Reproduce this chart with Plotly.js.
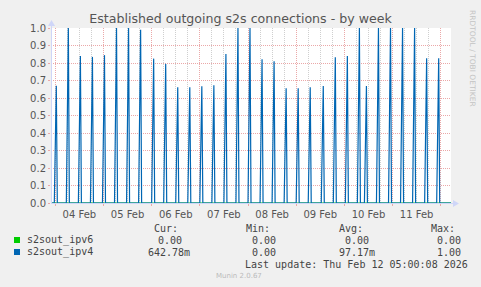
<!DOCTYPE html>
<html>
<head>
<meta charset="utf-8">
<script src="https://cdn.plot.ly/plotly-3.0.1.min.js"></script>
<style>
  html, body { margin: 0; padding: 0; background: #F0F0F0; }
  #chart { width: 481px; height: 287px; }
</style>
</head>
<body>
<div id="chart"></div>
<script>
// ---- data ----
const chartTitle = 'Established outgoing s2s connections - by week';
const seriesNames = ['s2sout_ipv6', 's2sout_ipv4'];
const seriesColors = ['#00CC00', '#0066B3'];

// times of the 6-hourly spikes of s2sout_ipv4
const spikeTimes = [
  '2026-02-04 00:30', '2026-02-04 06:30', '2026-02-04 12:30', '2026-02-04 18:30',
  '2026-02-05 00:30', '2026-02-05 06:30', '2026-02-05 12:30', '2026-02-05 18:30',
  '2026-02-06 01:00', '2026-02-06 07:00', '2026-02-06 13:00', '2026-02-06 19:00',
  '2026-02-07 01:00', '2026-02-07 07:00', '2026-02-07 13:00', '2026-02-07 19:00',
  '2026-02-08 01:00', '2026-02-08 07:00', '2026-02-08 13:00', '2026-02-08 19:00',
  '2026-02-09 01:00', '2026-02-09 07:00', '2026-02-09 13:30', '2026-02-09 19:30',
  '2026-02-10 01:30', '2026-02-10 07:30', '2026-02-10 11:00', '2026-02-10 17:00',
  '2026-02-10 23:00', '2026-02-11 05:00', '2026-02-11 11:00', '2026-02-11 17:00',
  '2026-02-11 23:00'
];
// peak value of s2sout_ipv4 at each spike
const ipv4Peaks = [
  0.67, 1.00, 0.84, 0.835,
  0.845, 1.00, 1.00, 0.99,
  0.825, 0.795, 0.662, 0.662,
  0.667, 0.673, 0.852, 1.00,
  1.00, 0.822, 0.81, 0.656,
  0.656, 0.662, 0.669, 0.833,
  0.84, 1.00, 0.669, 1.00,
  1.00, 1.00, 1.00, 0.827,
  0.827
];
// s2sout_ipv6 stays at zero the whole week
const ipv6Value = 0;

const xRange = ['2026-02-03 21:51:30', '2026-02-12 05:08'];
const yTicks = [0, 0.1, 0.2, 0.3, 0.4, 0.5, 0.6, 0.7, 0.8, 0.9, 1.0];

const legendHeaders = ['Cur:', 'Min:', 'Avg:', 'Max:'];
const legendRows = [
  ['0.00', '0.00', '0.00', '0.00'],
  ['642.78m', '0.00', '97.17m', '1.00']
];
const lastUpdate = 'Last update: Thu Feb 12 05:00:08 2026';
const footer = 'Munin 2.0.67';
const sideText = 'RRDTOOL / TOBI OETIKER';

// ---- build series (samples are 30 min apart) ----
const HALF = 30 * 60 * 1000;
function ms(s) { return new Date(s.replace(' ', 'T') + 'Z').getTime(); }
function iso(t) { return new Date(t).toISOString().replace('T', ' ').replace('Z', ''); }

const x4 = [xRange[0]], y4 = [0];
spikeTimes.forEach((s, i) => {
  const t = ms(s);
  x4.push(iso(t - 2 * HALF)); y4.push(0);
  x4.push(iso(t)); y4.push(ipv4Peaks[i]);
  x4.push(iso(t + HALF)); y4.push(0);
});
x4.push(xRange[1]); y4.push(0);
const y6 = x4.map(() => ipv6Value);

// ---- layout geometry (pixels) ----
const W = 481, H = 287;
const L = 51, R = 30, T = 28, B = 84;
const PW = W - L - R, PH = H - T - B;
const px = v => (v - L) / PW;
const py = v => (H - B - v) / PH;

const txtColor = '#555555';
const axisColor = '#CFD6F8';
const gridRed = '#EBA8A8';
const gridGray = '#CFCFCF';
const dots = '1px,1px';
const mono = 'DejaVu Sans Mono, monospace';
const sans = 'DejaVu Sans, sans-serif';

const annotations = [];
function addText(text, x, y, opts) {
  annotations.push(Object.assign({
    text: text, xref: 'paper', yref: 'paper', x: px(x), y: py(y),
    xanchor: 'left', yanchor: 'middle', showarrow: false, borderpad: 0,
    font: { family: mono, size: 10, color: '#444' }
  }, opts || {}));
}
// legend
addText(seriesNames[0], 25.5, 240);
addText(seriesNames[1], 25.5, 252);
const headX = [152.5, 244.5, 337.5, 430];
legendHeaders.forEach((h, i) => addText(h, headX[i], 228));
const rowX = [
  [156.5, 250.5, 343.5, 435.5],
  [146.5, 250.5, 337.5, 435.5]
];
legendRows.forEach((row, r) => row.forEach((v, c) => addText(v, rowX[r][c], 240 + 12 * r)));
addText(lastUpdate, 244, 264);
addText(footer, 239, 276, { xanchor: 'center', font: { family: sans, size: 7, color: '#BBBBBB' } });
addText(sideText, 472, 58, { xanchor: 'center', textangle: 90, font: { family: sans, size: 7.5, color: '#C4C4C4' } });

const shapes = [
  // legend swatches
  { type: 'rect', xref: 'paper', yref: 'paper', x0: px(14), x1: px(20), y0: py(243), y1: py(237),
    fillcolor: seriesColors[0], line: { width: 0 } },
  { type: 'rect', xref: 'paper', yref: 'paper', x0: px(14), x1: px(20), y0: py(255), y1: py(249),
    fillcolor: seriesColors[1], line: { width: 0 } },
  // axes with arrows
  { type: 'line', xref: 'paper', yref: 'paper', x0: px(51), x1: px(455), y0: py(203.5), y1: py(203.5),
    line: { color: axisColor, width: 1 } },
  { type: 'line', xref: 'paper', yref: 'paper', x0: px(51.5), x1: px(51.5), y0: py(204), y1: py(24),
    line: { color: axisColor, width: 1 } },
  { type: 'path', xref: 'paper', yref: 'paper',
    path: `M ${px(453)} ${py(200)} L ${px(459)} ${py(203.5)} L ${px(453)} ${py(207)} Z`,
    fillcolor: axisColor, line: { width: 0 } },
  { type: 'path', xref: 'paper', yref: 'paper',
    path: `M ${px(48)} ${py(26)} L ${px(51.5)} ${py(20)} L ${px(55)} ${py(26)} Z`,
    fillcolor: axisColor, line: { width: 0 } }
];

const traces = [
  { x: x4, y: y6, type: 'scatter', mode: 'lines', name: seriesNames[0],
    line: { color: seriesColors[0], width: 1 }, hoverinfo: 'skip' },
  { x: x4, y: y4, type: 'scatter', mode: 'lines', name: seriesNames[1],
    line: { color: seriesColors[1], width: 1.2 }, hoverinfo: 'skip' }
];

const layout = {
  width: W, height: H,
  margin: { l: L, r: R, t: T, b: B, pad: 0 },
  paper_bgcolor: '#F0F0F0',
  plot_bgcolor: '#FFFFFF',
  showlegend: false,
  title: { text: chartTitle, x: 0.5, xref: 'container', xanchor: 'center',
           y: 1 - 19 / H, yref: 'container', yanchor: 'middle',
           font: { family: sans, size: 12.6, color: txtColor } },
  xaxis: {
    type: 'date', range: xRange,
    tick0: '2026-02-04', dtick: 86400000, ticklabelmode: 'period', tickformat: '%d %b',
    showgrid: true, gridcolor: gridRed, griddash: dots, gridwidth: 1,
    minor: { dtick: 21600000, tick0: '2026-02-04', showgrid: true, gridcolor: gridGray, griddash: dots, gridwidth: 1 },
    ticks: 'outside', ticklen: 2, tickcolor: gridRed,
    showline: false, zeroline: false,
    tickfont: { family: sans, size: 10, color: txtColor }
  },
  yaxis: {
    range: [0, 1], tickvals: yTicks, tickformat: '.1f',
    showgrid: true, gridcolor: gridRed, griddash: dots, gridwidth: 1,
    ticks: 'outside', ticklen: 2, tickcolor: gridRed,
    showline: false, zeroline: false,
    tickfont: { family: sans, size: 10, color: txtColor }
  },
  annotations: annotations,
  shapes: shapes
};

Plotly.newPlot('chart', traces, layout, { staticPlot: true, displayModeBar: false });
</script>
</body>
</html>
